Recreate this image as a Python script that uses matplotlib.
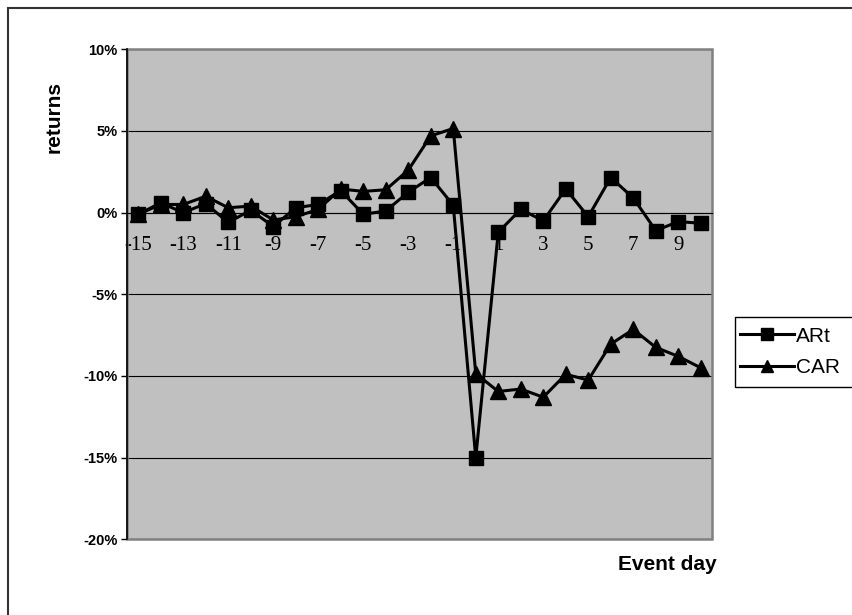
import matplotlib
matplotlib.use("Agg")
import matplotlib.pyplot as plt
from matplotlib.lines import Line2D
from matplotlib.patches import Rectangle
from matplotlib.ticker import FuncFormatter

# Event window: day -15 .. day 10
days = list(range(-15, 11))

# Abnormal return per day (percent)
art = [-0.1, 0.6, 0.0, 0.55, -0.6, 0.15, -0.85, 0.3, 0.5, 1.35, -0.1, 0.1, 1.25,
       2.15, 0.45, -15.0, -1.2, 0.2, -0.5, 1.45, -0.25, 2.15, 0.9, -1.1, -0.55, -0.65]

# Cumulative abnormal return per day (percent)
car = [-0.1, 0.5, 0.5, 1.0, 0.3, 0.4, -0.45, -0.25, 0.2, 1.45, 1.3, 1.4, 2.6,
       4.7, 5.15, -9.85, -10.95, -10.8, -11.3, -9.9, -10.25, -8.05, -7.15, -8.25,
       -8.8, -9.5]

tick_days = days[::2]
y_ticks = [-20, -15, -10, -5, 0, 5, 10]

W, H = 852, 615
fig = plt.figure(figsize=(W / 100, H / 100), dpi=100)

# plot area in pixel terms
left, right, top, bottom = 127, 712, 49.3, 539.3
ax = fig.add_axes([left / W, (H - bottom) / H, (right - left) / W, (bottom - top) / H])
ax.set_facecolor("#C0C0C0")
ax.set_axisbelow(True)

ax.plot(days, car, color="black", lw=2.2, marker="^", markersize=11,
        markerfacecolor="black", markeredgecolor="black", label="CAR", zorder=2)
ax.plot(days, art, color="black", lw=2.2, marker="s", markersize=10.5,
        markerfacecolor="black", markeredgecolor="black", label="ARt", zorder=3)

ax.set_xlim(-15.5, 10.5)
ax.set_ylim(-20, 10)

# value axis
ax.set_yticks(y_ticks)
ax.yaxis.set_major_formatter(FuncFormatter(lambda v, p: f"{v:.0f}%"))
ax.tick_params(axis="y", direction="out", length=4, width=1, color="black", pad=3)
for lab in ax.get_yticklabels():
    lab.set_fontfamily("Liberation Sans")
    lab.set_fontweight("bold")
    lab.set_fontsize(10.5)
ax.yaxis.grid(True, color="black", lw=0.8)

# category axis crossing at zero
ax.spines["bottom"].set_position(("data", 0))
ax.spines["bottom"].set_color("black")
ax.spines["bottom"].set_linewidth(0.8)
ax.set_xticks(tick_days)
ax.set_xticklabels([str(d) for d in tick_days])
ax.tick_params(axis="x", length=0, pad=16.5)
for lab in ax.get_xticklabels():
    lab.set_fontfamily("Liberation Serif")
    lab.set_fontsize(15)

ax.spines["top"].set_visible(False)
ax.spines["right"].set_visible(False)
ax.spines["left"].set_color("black")
ax.spines["left"].set_linewidth(1.2)
ax.spines["left"].set_zorder(4)

# plot-area frame
ax.add_patch(Rectangle((0, 0), 1, 1, transform=ax.transAxes, fill=False,
                       edgecolor="#808080", lw=1.8, zorder=1, clip_on=False))

# axis titles
fig.text(54 / W, 1 - 117 / H, "returns", rotation=90, ha="center", va="center",
         fontfamily="Liberation Sans", fontweight="bold", fontsize=15)
fig.text(667 / W, 1 - 570 / H, "Event day", ha="center", va="baseline",
         fontfamily="Liberation Sans", fontweight="bold", fontsize=15)

# legend with its own frame running off the right edge
fig.add_artist(Rectangle((735 / W, 1 - 387 / H), 140 / W, 70 / H,
                         transform=fig.transFigure, facecolor="white",
                         edgecolor="black", lw=1.0, zorder=5))
handles, labels = ax.get_legend_handles_labels()
order = [1, 0]
leg = fig.legend([handles[i] for i in order], [labels[i] for i in order],
                 loc="center left", bbox_to_anchor=(736 / W, 1 - 352 / H),
                 frameon=False, handlelength=2.6, handletextpad=0.1,
                 labelspacing=0.6, borderpad=0.2, borderaxespad=0,
                 prop={"family": "Liberation Sans", "size": 15})
leg.set_zorder(6)
for h in leg.legend_handles:
    h.set_markersize(9)

# outer chart border
fig.add_artist(Line2D([8 / W, 8 / W], [0, 1 - 8 / H], transform=fig.transFigure,
                      color="#333333", lw=1.5))
fig.add_artist(Line2D([8 / W, 1], [1 - 8 / H, 1 - 8 / H], transform=fig.transFigure,
                      color="#333333", lw=1.5))

fig.savefig("out.png", dpi=100)
